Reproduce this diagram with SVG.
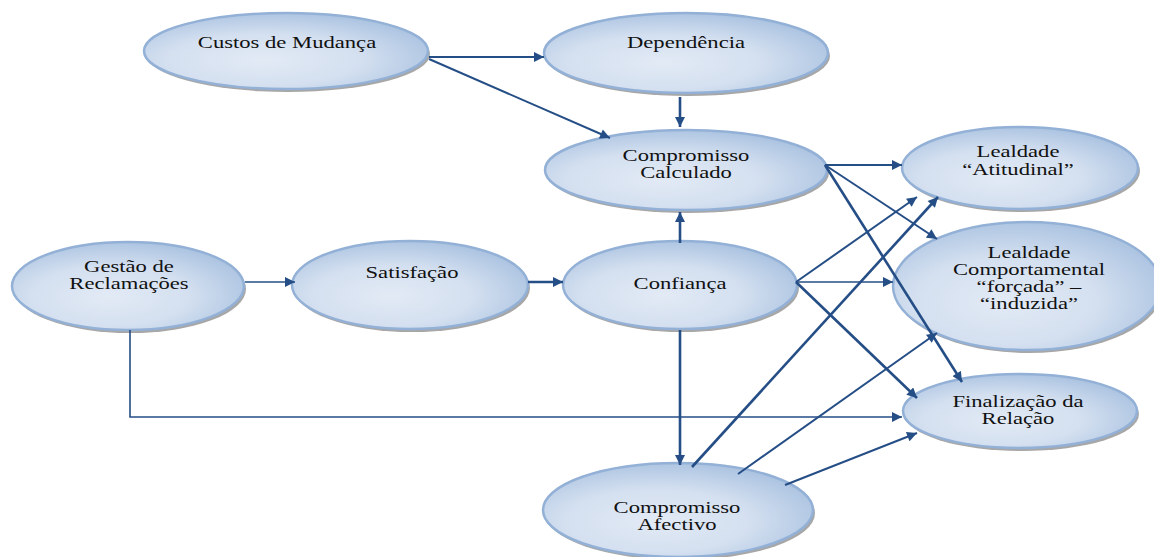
<svg xmlns="http://www.w3.org/2000/svg" width="1154" height="557" viewBox="0 0 1154 557">
<defs>
<radialGradient id="g" cx="42%" cy="62%" r="62%">
<stop offset="0" stop-color="#e2eaf5"/>
<stop offset="0.55" stop-color="#d4e0f0"/>
<stop offset="1" stop-color="#aec5e2"/>
</radialGradient>
<marker id="ah" viewBox="0 0 10 10" refX="10" refY="5" markerWidth="11" markerHeight="10" markerUnits="userSpaceOnUse" orient="auto">
<path d="M0,0 L10,5 L0,10 z" fill="#254e86"/>
</marker>
</defs>
<style>
.sh{fill:#8a8a8a;opacity:.75}
.el{fill:url(#g);stroke:#93b0d6;stroke-width:2.5}
.t{font-family:"Liberation Serif","Times New Roman",serif;font-size:17px;fill:#111;text-anchor:middle}
.c path{fill:none;stroke:#254e86;stroke-width:2;marker-end:url(#ah)}
.c .k{stroke-width:2.6}
.c .n{stroke-width:1.6}
</style>
<rect width="1154" height="557" fill="#fff"/>
<g id="custos">
<ellipse class="sh" cx="288" cy="54" rx="142" ry="38"/>
<ellipse class="el" cx="286" cy="51" rx="142" ry="38"/>
<text class="t" transform="translate(287,48) scale(1.33,1)">Custos de Mudança</text>
</g>
<g id="dependencia">
<ellipse class="sh" cx="688" cy="56" rx="142" ry="40"/>
<ellipse class="el" cx="686" cy="53" rx="142" ry="40"/>
<text class="t" transform="translate(686,48) scale(1.33,1)">Dependência</text>
</g>
<g id="comp-calculado">
<ellipse class="sh" cx="688" cy="173" rx="141" ry="40"/>
<ellipse class="el" cx="686" cy="170" rx="141" ry="40"/>
<text class="t" transform="translate(686,161) scale(1.33,1)">Compromisso</text>
<text class="t" transform="translate(686,178) scale(1.33,1)">Calculado</text>
</g>
<g id="lealdade-atitudinal">
<ellipse class="sh" cx="1022" cy="171" rx="118" ry="41"/>
<ellipse class="el" cx="1020" cy="168" rx="118" ry="41"/>
<text class="t" transform="translate(1018,157) scale(1.33,1)">Lealdade</text>
<text class="t" transform="translate(1018,175) scale(1.33,1)">“Atitudinal”</text>
</g>
<g id="lealdade-comportamental">
<ellipse class="sh" cx="1029" cy="289" rx="134" ry="64"/>
<ellipse class="el" cx="1027" cy="286" rx="134" ry="64"/>
<text class="t" transform="translate(1029,258) scale(1.33,1)">Lealdade</text>
<text class="t" transform="translate(1029,275) scale(1.33,1)">Comportamental</text>
<text class="t" transform="translate(1029,292) scale(1.33,1)">“forçada” –</text>
<text class="t" transform="translate(1029,309) scale(1.33,1)">“induzida”</text>
</g>
<g id="finalizacao">
<ellipse class="sh" cx="1022" cy="414" rx="117" ry="37"/>
<ellipse class="el" cx="1020" cy="411" rx="117" ry="37"/>
<text class="t" transform="translate(1018,407) scale(1.33,1)">Finalização da</text>
<text class="t" transform="translate(1018,424) scale(1.33,1)">Relação</text>
</g>
<g id="gestao">
<ellipse class="sh" cx="130" cy="289" rx="116" ry="44"/>
<ellipse class="el" cx="128" cy="286" rx="116" ry="44"/>
<text class="t" transform="translate(129,272) scale(1.33,1)">Gestão de</text>
<text class="t" transform="translate(129,289) scale(1.33,1)">Reclamações</text>
</g>
<g id="satisfacao">
<ellipse class="sh" cx="412" cy="288" rx="118" ry="44"/>
<ellipse class="el" cx="410" cy="285" rx="118" ry="44"/>
<text class="t" transform="translate(412,278) scale(1.33,1)">Satisfação</text>
</g>
<g id="confianca">
<ellipse class="sh" cx="682" cy="288" rx="117" ry="44"/>
<ellipse class="el" cx="680" cy="285" rx="117" ry="44"/>
<text class="t" transform="translate(680,289) scale(1.33,1)">Confiança</text>
</g>
<g id="comp-afectivo">
<ellipse class="sh" cx="680" cy="513" rx="135" ry="47"/>
<ellipse class="el" cx="678" cy="510" rx="135" ry="47"/>
<text class="t" transform="translate(677,513) scale(1.33,1)">Compromisso</text>
<text class="t" transform="translate(677,530) scale(1.33,1)">Afectivo</text>
</g>
<g id="connectors" class="c">
<path d="M429,57 L544,57"/>
<path d="M429,59 L610,138"/>
<path class="k" d="M680,97 L680,127"/>
<path d="M825,165 L902,165"/>
<path d="M825,165 L937,239"/>
<path class="k" d="M825,165 L962,382"/>
<path class="k" d="M680,243 L680,212"/>
<path class="n" d="M245,282 L295,282"/>
<path class="k" d="M528,282 L563,282"/>
<path d="M796,282 L917,197"/>
<path class="n" d="M796,282 L893,282"/>
<path class="k" d="M796,282 L917,398"/>
<path class="k" d="M680,330 L680,465"/>
<path class="n" d="M130,330 L130,417 L902,417"/>
<path class="k" d="M692,467 L938,197"/>
<path d="M738,474 L937,333"/>
<path d="M785,485 L917,433"/>
</g>
</svg>
